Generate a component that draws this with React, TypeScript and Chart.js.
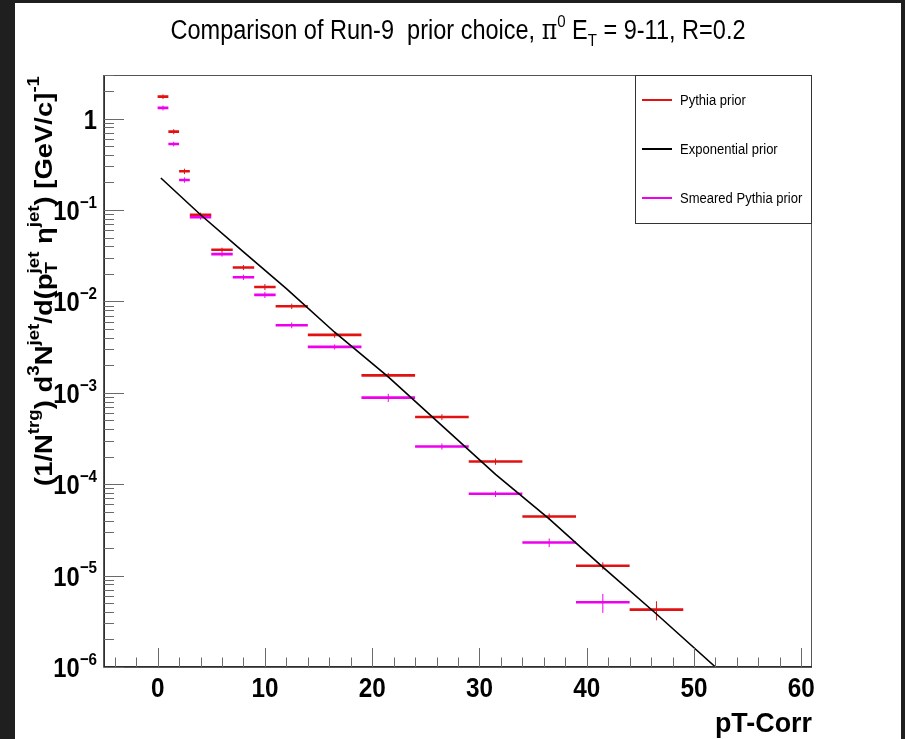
import React, { useEffect, useRef } from 'react';
import { Chart, registerables } from 'chart.js';

Chart.register(...registerables);

// ---------------- data ----------------
const binEdges = [0, 1, 2, 3, 5, 7, 9, 11, 14, 19, 24, 29, 34, 39, 44, 49];

const pythiaValues = [1.74, 0.72, 0.265, 0.0887, 0.0367, 0.0235, 0.0144, 0.00885, 0.0043, 0.00155, 0.000543, 0.000177, 4.43e-5, 1.28e-5, 4.24e-6];
const pythiaErrors = [0.1, 0.045, 0.018, 0.005, 0.002, 0.0015, 0.0011, 0.0006, 0.0003, 0.0001, 0.00004, 0.000014, 3.5e-6, 1.2e-6, 1.0e-6];

const smearedValues: (number | null)[] = [1.31, 0.527, 0.213, 0.0835, 0.0329, 0.0184, 0.0118, 0.00548, 0.00318, 0.000885, 0.000259, 7.85e-5, 2.3e-5, 5.11e-6, null];
const smearedErrors = [0.08, 0.03, 0.014, 0.005, 0.002, 0.0012, 0.0009, 0.0004, 0.0002, 0.00009, 0.00002, 6e-6, 2.5e-6, 1.2e-6, 0];

const expX = [0.3, 4, 8, 12, 16.5, 21.5, 26.5, 31.5, 36.5, 41.5, 46.5, 52];
const expValues = [0.224, 0.0887, 0.0349, 0.0138, 0.0046, 0.00149, 4.37e-4, 1.28e-4, 4.17e-5, 1.24e-5, 3.8e-6, 1.0e-6];

const xMin = -5;
const xMax = 61;
const yMin = 1e-6;
const yMax = 3;
const xMajorTicks = [0, 10, 20, 30, 40, 50, 60];
const xMinorStep = 2;
const yDecades = [0, -1, -2, -3, -4, -5, -6];

const legendLabels = ['Pythia prior', 'Exponential prior', 'Smeared Pythia prior'];
const RED = 'rgb(226,18,18)';
const MAGENTA = 'rgb(238,0,238)';
const BLACK = '#000000';
const legendColors = [RED, BLACK, MAGENTA];

// ---------------- helpers ----------------
type P = { x: number; y: number | null };

function barSegments(values: (number | null)[]): P[] {
  const pts: P[] = [];
  values.forEach((v, i) => {
    if (v == null) return;
    pts.push({ x: binEdges[i], y: v }, { x: binEdges[i + 1], y: v }, { x: binEdges[i + 1], y: null });
  });
  return pts;
}

function errorSegments(values: (number | null)[], errs: number[]): P[] {
  const pts: P[] = [];
  values.forEach((v, i) => {
    if (v == null) return;
    const c = (binEdges[i] + binEdges[i + 1]) / 2;
    pts.push({ x: c, y: v - errs[i] }, { x: c, y: v + errs[i] }, { x: c, y: null });
  });
  return pts;
}

type Seg = { t: string; s?: 'sup' | 'sub' | 'subsup'; t2?: string; sym?: boolean };
const SANS = '"Liberation Sans", Arial, Helvetica, sans-serif';
const SERIF = '"DejaVu Serif", "Liberation Serif", serif';

function fontOf(size: number, weight: string, sym?: boolean) {
  return `${weight} ${size}px ${sym ? SERIF : SANS}`;
}

type RichOpts = { rotate?: number; fitLength?: number; sy?: number; supScale?: number; supRaise?: number; subDrop?: number };

function layoutRich(ctx: CanvasRenderingContext2D, segs: Seg[], size: number, weight: string, o: RichOpts) {
  const items: { t: string; x: number; dy: number; font: string }[] = [];
  let w = 0;
  const small = size * (o.supScale ?? 0.64);
  const up = -size * (o.supRaise ?? 0.45);
  const down = size * (o.subDrop ?? 0.25);
  for (const sg of segs) {
    if (!sg.s) {
      const f = fontOf(size, weight, sg.sym);
      ctx.font = f;
      items.push({ t: sg.t, x: w, dy: 0, font: f });
      w += ctx.measureText(sg.t).width;
    } else if (sg.s === 'sup' || sg.s === 'sub') {
      const f = fontOf(small, weight, sg.sym);
      ctx.font = f;
      items.push({ t: sg.t, x: w, dy: sg.s === 'sup' ? up : down, font: f });
      w += ctx.measureText(sg.t).width;
    } else {
      const f = fontOf(small, weight, sg.sym);
      ctx.font = f;
      items.push({ t: sg.t, x: w, dy: down, font: f });
      items.push({ t: sg.t2 || '', x: w, dy: up, font: f });
      w += Math.max(ctx.measureText(sg.t).width, ctx.measureText(sg.t2 || '').width);
    }
  }
  return { w, items };
}

function drawRich(
  ctx: CanvasRenderingContext2D,
  segs: Seg[],
  x: number,
  y: number,
  size: number,
  weight: string,
  align: 'left' | 'center' | 'right',
  sx: number,
  color: string,
  opts: RichOpts = {}
) {
  const { w, items } = layoutRich(ctx, segs, size, weight, opts);
  const scaleX = opts.fitLength ? opts.fitLength / w : sx;
  ctx.save();
  ctx.translate(x, y);
  if (opts.rotate) ctx.rotate(opts.rotate);
  ctx.scale(scaleX, opts.sy ?? 1);
  const x0 = align === 'left' ? 0 : align === 'center' ? -w / 2 : -w;
  ctx.fillStyle = color;
  ctx.textAlign = 'left';
  ctx.textBaseline = 'alphabetic';
  for (const it of items) {
    ctx.font = it.font;
    ctx.fillText(it.t, x0 + it.x, it.dy);
  }
  ctx.restore();
}

const titleSegs: Seg[] = [
  { t: 'Comparison of Run-9  prior choice, ' },
  { t: 'π', sym: true },
  { t: '0', s: 'sup' },
  { t: ' E' },
  { t: 'T', s: 'sub' },
  { t: ' = 9-11, R=0.2' },
];

const yTitleSegs: Seg[] = [
  { t: '(1/N' },
  { t: 'trg', s: 'sup' },
  { t: ') d' },
  { t: '3', s: 'sup' },
  { t: 'N' },
  { t: 'jet', s: 'sup' },
  { t: '/d(p' },
  { t: 'T', s: 'subsup', t2: 'jet' },
  { t: ' η' },
  { t: 'jet', s: 'sup' },
  { t: ') [GeV/c]' },
  { t: '-1', s: 'sup' },
];

const decor = {
  id: 'rootDecor',
  beforeDraw(chart: any) {
    const ctx: CanvasRenderingContext2D = chart.ctx;
    ctx.save();
    ctx.fillStyle = '#1f1f1f';
    ctx.fillRect(0, 0, chart.width, chart.height);
    ctx.fillStyle = '#ffffff';
    ctx.fillRect(15, 3, 886, chart.height - 3);
    ctx.restore();
  },
  afterDraw(chart: any) {
    const ctx: CanvasRenderingContext2D = chart.ctx;
    const { left, right, top, bottom } = chart.chartArea;
    const xs = chart.scales.x;
    const ys = chart.scales.y;
    ctx.save();

    // frame
    ctx.strokeStyle = '#555555';
    ctx.lineWidth = 1;
    ctx.strokeRect(left + 0.5, top + 0.5, right - left - 1, bottom - top - 1);
    ctx.strokeStyle = '#222222';
    ctx.lineWidth = 1.5;
    ctx.beginPath();
    ctx.moveTo(left, top);
    ctx.lineTo(left, bottom);
    ctx.lineTo(right, bottom);
    ctx.stroke();

    // x ticks (inward)
    ctx.strokeStyle = '#6a6a6a';
    ctx.lineWidth = 1;
    for (let v = Math.ceil(xMin / xMinorStep) * xMinorStep; v <= xMax; v += xMinorStep) {
      const px = Math.round(xs.getPixelForValue(v)) + 0.5;
      const major = xMajorTicks.includes(v);
      ctx.beginPath();
      ctx.moveTo(px, bottom);
      ctx.lineTo(px, bottom - (major ? 19 : 9.5));
      ctx.stroke();
    }
    // y ticks (inward)
    for (const e of yDecades) {
      for (let k = 1; k <= 9; k++) {
        const v = k * Math.pow(10, e);
        if (v < yMin * 0.999 || v > yMax * 1.001) continue;
        const py = Math.round(ys.getPixelForValue(v)) + 0.5;
        ctx.beginPath();
        ctx.moveTo(left, py);
        ctx.lineTo(left + (k === 1 ? 20 : 10), py);
        ctx.stroke();
      }
    }

    // x tick labels
    for (const v of xMajorTicks) {
      const px = xs.getPixelForValue(v);
      drawRich(ctx, [{ t: String(v) }], px, bottom + 30, 27, 'bold', 'center', 0.9, '#000');
    }
    // y tick labels
    for (const e of yDecades) {
      const py = ys.getPixelForValue(Math.pow(10, e));
      const segs: Seg[] = e === 0 ? [{ t: '1' }] : [{ t: '10' }, { t: '\u2212' + Math.abs(e), s: 'sup' }];
      drawRich(ctx, segs, left - 7, py + 10, 27, 'bold', 'right', 0.88, '#000');
    }

    // axis titles (ROOT default: aligned to the axis end)
    drawRich(ctx, [{ t: 'pT-Corr' }], right, 732, 28, 'bold', 'right', 0.96, '#000');
    drawRich(ctx, yTitleSegs, 52, top + 1, 30, 'bold', 'right', 1, '#000', {
      rotate: -Math.PI / 2,
      fitLength: 410,
      sy: 0.8,
      supScale: 0.68,
      supRaise: 0.55,
      subDrop: 0.22,
    });

    // title
    drawRich(ctx, titleSegs, 458, 39, 27, 'normal', 'center', 1, '#000', { fitLength: 575 });

    // legend
    const lx = 635, ly = top, lw = right - 635, lh = 149;
    ctx.fillStyle = '#fff';
    ctx.fillRect(lx, ly, lw, lh);
    ctx.strokeStyle = '#333';
    ctx.lineWidth = 1;
    ctx.strokeRect(lx + 0.5, ly + 0.5, lw - 1, lh - 1);
    const rows = [100, 149, 198];
    legendLabels.forEach((lab, i) => {
      ctx.strokeStyle = legendColors[i];
      ctx.lineWidth = 2;
      ctx.beginPath();
      ctx.moveTo(642, rows[i]);
      ctx.lineTo(672, rows[i]);
      ctx.stroke();
      drawRich(ctx, [{ t: lab }], 680, rows[i] + 5, 14, 'normal', 'left', 0.93, '#000');
    });

    ctx.restore();
  },
};

export default function App() {
  const ref = useRef<HTMLCanvasElement>(null);
  useEffect(() => {
    if (!ref.current) return;
    const chart = new Chart(ref.current, {
      type: 'line',
      data: {
        datasets: [
          {
            label: 'Exponential prior',
            data: expX.map((x, i) => ({ x, y: expValues[i] })),
            borderColor: BLACK,
            borderWidth: 1.6,
            pointRadius: 0,
            tension: 0,
            order: 0,
          },
          {
            label: 'Smeared Pythia prior',
            data: barSegments(smearedValues),
            borderColor: MAGENTA,
            borderWidth: 2.6,
            pointRadius: 0,
            spanGaps: false,
            order: 1,
          },
          {
            label: 'Smeared Pythia prior err',
            data: errorSegments(smearedValues, smearedErrors),
            borderColor: MAGENTA,
            borderWidth: 1,
            pointRadius: 0,
            spanGaps: false,
            order: 1,
          },
          {
            label: 'Pythia prior',
            data: barSegments(pythiaValues),
            borderColor: RED,
            borderWidth: 2.6,
            pointRadius: 0,
            spanGaps: false,
            order: 2,
          },
          {
            label: 'Pythia prior err',
            data: errorSegments(pythiaValues, pythiaErrors),
            borderColor: RED,
            borderWidth: 1,
            pointRadius: 0,
            spanGaps: false,
            order: 2,
          },
        ] as any,
      },
      options: {
        responsive: false,
        animation: false,
        devicePixelRatio: 1,
        parsing: false as any,
        normalized: true,
        layout: { padding: { left: 104, top: 75, right: 93, bottom: 72 } },
        scales: {
          x: { type: 'linear', min: xMin, max: xMax, display: false },
          y: { type: 'logarithmic', min: yMin, max: yMax, display: false },
        },
        plugins: {
          legend: { display: false },
          tooltip: { enabled: false },
          title: { display: false },
        },
        events: [],
      },
      plugins: [decor],
    });
    return () => chart.destroy();
  }, []);
  return (
    <div style={{ position: 'absolute', left: 0, top: 0, width: 905, height: 739 }}>
      <canvas ref={ref} width={905} height={739} style={{ display: 'block', width: 905, height: 739 }} />
    </div>
  );
}
